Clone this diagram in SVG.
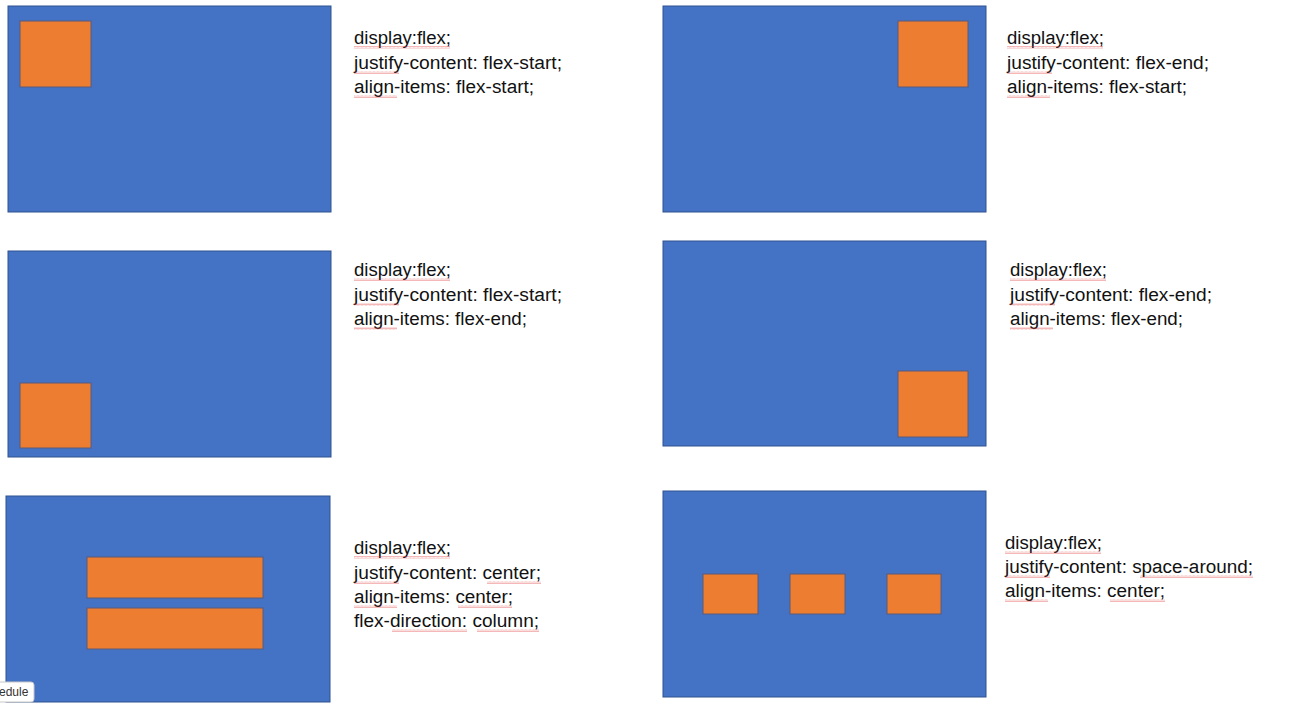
<svg xmlns="http://www.w3.org/2000/svg" width="1299" height="711" viewBox="0 0 1299 711">
<style>
.box{fill:#4472C4;stroke:#2F528F;stroke-width:1}
.item{fill:#ED7D31;stroke:#5A5A7A;stroke-width:1}
.t{font-family:"Liberation Sans",Arial,sans-serif;font-size:18px;fill:#111}
.sq{fill:url(#squig);opacity:0.75}
</style>
<defs>
<pattern id="squig" width="4" height="3" patternUnits="userSpaceOnUse">
<polyline points="0,2.5 1,0.5 2,2.5 3,0.5 4,2.5" fill="none" stroke="#E04040" stroke-width="0.5"/>
</pattern>
</defs>
<rect width="1299" height="711" fill="#fff"/>

<g id="panel1">
<rect class="box" x="8" y="6" width="323" height="206"/>
<rect class="item" x="20" y="21" width="71" height="66"/>
<text class="t" x="354" y="44" textLength="97" lengthAdjust="spacingAndGlyphs">display:flex;</text>
<text class="t" x="354" y="69" textLength="208" lengthAdjust="spacingAndGlyphs">justify-content: flex-start;</text>
<text class="t" x="354" y="93" textLength="180" lengthAdjust="spacingAndGlyphs">align-items: flex-start;</text>
<rect class="sq" x="354" y="46" width="96" height="3"/>
<rect class="sq" x="354" y="71" width="45" height="3"/>
<rect class="sq" x="354" y="95" width="43" height="3"/>
</g>

<g id="panel2">
<rect class="box" x="663" y="6" width="323" height="206"/>
<rect class="item" x="898" y="21" width="70" height="66"/>
<text class="t" x="1007" y="44" textLength="97" lengthAdjust="spacingAndGlyphs">display:flex;</text>
<text class="t" x="1007" y="69" textLength="202" lengthAdjust="spacingAndGlyphs">justify-content: flex-end;</text>
<text class="t" x="1007" y="93" textLength="180" lengthAdjust="spacingAndGlyphs">align-items: flex-start;</text>
<rect class="sq" x="1007" y="46" width="96" height="3"/>
<rect class="sq" x="1007" y="71" width="45" height="3"/>
<rect class="sq" x="1007" y="95" width="43" height="3"/>
</g>

<g id="panel3">
<rect class="box" x="8" y="251" width="323" height="206"/>
<rect class="item" x="20" y="383" width="71" height="65"/>
<text class="t" x="354" y="276" textLength="97" lengthAdjust="spacingAndGlyphs">display:flex;</text>
<text class="t" x="354" y="301" textLength="208" lengthAdjust="spacingAndGlyphs">justify-content: flex-start;</text>
<text class="t" x="354" y="325" textLength="173" lengthAdjust="spacingAndGlyphs">align-items: flex-end;</text>
<rect class="sq" x="354" y="278" width="96" height="3"/>
<rect class="sq" x="354" y="303" width="45" height="3"/>
<rect class="sq" x="354" y="327" width="43" height="3"/>
</g>

<g id="panel4">
<rect class="box" x="663" y="241" width="323" height="205"/>
<rect class="item" x="898" y="371" width="70" height="66"/>
<text class="t" x="1010" y="276" textLength="97" lengthAdjust="spacingAndGlyphs">display:flex;</text>
<text class="t" x="1010" y="301" textLength="202" lengthAdjust="spacingAndGlyphs">justify-content: flex-end;</text>
<text class="t" x="1010" y="325" textLength="173" lengthAdjust="spacingAndGlyphs">align-items: flex-end;</text>
<rect class="sq" x="1010" y="278" width="96" height="3"/>
<rect class="sq" x="1010" y="303" width="45" height="3"/>
<rect class="sq" x="1010" y="327" width="43" height="3"/>
</g>

<g id="panel5">
<rect class="box" x="6" y="496" width="324" height="206"/>
<rect class="item" x="87" y="557" width="176" height="41"/>
<rect class="item" x="87" y="608" width="176" height="41"/>
<text class="t" x="354" y="554" textLength="97" lengthAdjust="spacingAndGlyphs">display:flex;</text>
<text class="t" x="354" y="579" textLength="187" lengthAdjust="spacingAndGlyphs">justify-content: center;</text>
<text class="t" x="354" y="603" textLength="159" lengthAdjust="spacingAndGlyphs">align-items: center;</text>
<text class="t" x="354" y="627" textLength="185" lengthAdjust="spacingAndGlyphs">flex-direction: column;</text>
<rect class="sq" x="354" y="556" width="96" height="3"/>
<rect class="sq" x="354" y="581" width="45" height="3"/>
<rect class="sq" x="487" y="581" width="54" height="3"/>
<rect class="sq" x="354" y="605" width="43" height="3"/>
<rect class="sq" x="458" y="605" width="54" height="3"/>
<rect class="sq" x="392" y="629" width="75" height="3"/>
<rect class="sq" x="477" y="629" width="62" height="3"/>
</g>

<g id="panel6">
<rect class="box" x="663" y="491" width="323" height="206"/>
<rect class="item" x="703" y="574" width="55" height="40"/>
<rect class="item" x="790" y="574" width="55" height="40"/>
<rect class="item" x="887" y="574" width="54" height="40"/>
<text class="t" x="1005" y="549" textLength="97" lengthAdjust="spacingAndGlyphs">display:flex;</text>
<text class="t" x="1005" y="573" textLength="248" lengthAdjust="spacingAndGlyphs">justify-content: space-around;</text>
<text class="t" x="1005" y="597" textLength="160" lengthAdjust="spacingAndGlyphs">align-items: center;</text>
<rect class="sq" x="1005" y="551" width="96" height="3"/>
<rect class="sq" x="1005" y="575" width="45" height="3"/>
<rect class="sq" x="1140" y="575" width="113" height="3"/>
<rect class="sq" x="1005" y="599" width="43" height="3"/>
<rect class="sq" x="1110" y="599" width="55" height="3"/>
</g>

<g id="tooltip">
<rect x="-4" y="682" width="38" height="20" rx="3" fill="#fff" stroke="#C8C8C8" stroke-width="1"/>
<text x="-1" y="696" font-family="'Liberation Sans',Arial,sans-serif" font-size="12" fill="#333">edule</text>
</g>
</svg>
